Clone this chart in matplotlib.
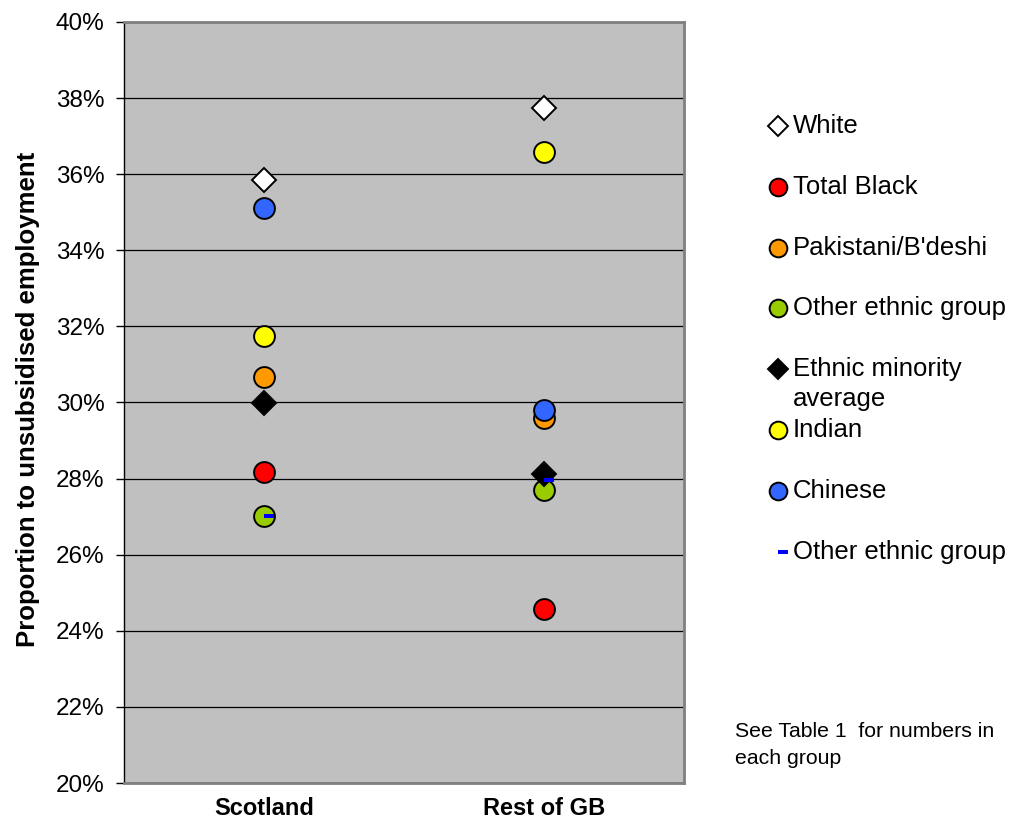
import matplotlib
matplotlib.use('Agg')
import matplotlib.pyplot as plt
import numpy as np
from matplotlib.path import Path
from matplotlib.ticker import PercentFormatter

plt.rcParams['font.family'] = ['Liberation Sans', 'DejaVu Sans']

# Share of each group moving into unsubsidised employment (%)
categories = ['Scotland', 'Rest of GB']
white = [35.84, 37.75]
total_black = [28.18, 24.56]
pakistani = [30.67, 29.58]
other_ethnic = [27.02, 27.70]
minority_avg = [29.98, 28.12]
indian = [31.76, 36.59]
chinese = [35.10, 29.80]
other_dash = [27.02, 27.97]

legend_labels = ['White', 'Total Black', "Pakistani/B'deshi", 'Other ethnic group',
                 'Ethnic minority\naverage', 'Indian', 'Chinese', 'Other ethnic group']

# short blue bar, sitting a little right of the point
dash = Path([(0, -0.2), (1, -0.2), (1, 0.2), (0, 0.2), (0, -0.2)],
            [Path.MOVETO, Path.LINETO, Path.LINETO, Path.LINETO, Path.CLOSEPOLY])

series = [
    (white, dict(marker='D', ms=12, mfc='white', mec='black', mew=1.4)),
    (total_black, dict(marker='o', ms=15, mfc='#FF0000', mec='black', mew=1.4)),
    (pakistani, dict(marker='o', ms=15, mfc='#FF9900', mec='black', mew=1.4)),
    (other_ethnic, dict(marker='o', ms=15, mfc='#99CC00', mec='black', mew=1.4)),
    (minority_avg, dict(marker='D', ms=12, mfc='black', mec='black', mew=1.4)),
    (indian, dict(marker='o', ms=15, mfc='#FFFF00', mec='black', mew=1.4)),
    (chinese, dict(marker='o', ms=15, mfc='#3366FF', mec='black', mew=1.4)),
    (other_dash, dict(marker=dash, ms=14.5, mfc='#0000FF', mec='none', mew=0)),
]

fig = plt.figure(figsize=(10.22, 8.21), dpi=100)
ax = fig.add_axes([124 / 1022, 38 / 821, 560 / 1022, 761 / 821])
ax.set_facecolor('#C0C0C0')

x = np.arange(len(categories))
for i, (vals, style) in enumerate(series):
    ax.plot(x, vals, linestyle='none', zorder=3 + i, **style)

ax.set_xlim(-0.5, 1.5)
ax.set_ylim(20, 40)
ax.set_yticks(np.arange(20, 41, 2))
ax.yaxis.set_major_formatter(PercentFormatter(decimals=0))
ax.grid(axis='y', color='black', lw=0.9)
ax.set_axisbelow(True)
ax.set_xticks(x)
ax.set_xticklabels(categories, fontsize=17, fontweight='bold')
ax.tick_params(axis='x', length=0, pad=10)
ax.tick_params(axis='y', length=6, width=1, labelsize=17.5, pad=8, direction='out')

for side in ['top', 'right', 'bottom']:
    ax.spines[side].set_color('#808080')
    ax.spines[side].set_linewidth(2)
ax.spines['left'].set_color('black')
ax.spines['left'].set_linewidth(1)

fig.text(28 / 1022, 1 - 399 / 821, 'Proportion to unsubsidised employment',
         rotation=90, ha='center', va='center', fontsize=18.5, fontweight='bold')

# legend drawn in pixel space on an overlay
lg = fig.add_axes([0, 0, 1, 1], facecolor='none')
lg.set_xlim(0, 1022)
lg.set_ylim(821, 0)
lg.axis('off')
y0, step = 126, 60.8
for i, (label, (vals, style)) in enumerate(zip(legend_labels, series)):
    yy = y0 + i * step
    st = dict(style)
    if st['marker'] is not dash:
        st['ms'] = st['ms'] * 0.85
    lg.plot([778], [yy], linestyle='none', **st)
    for j, ln in enumerate(label.split('\n')):
        lg.text(793, yy + j * 30, ln, fontsize=18.5, va='center', ha='left')

fig.text(735 / 1022, 1 - 722 / 821, 'See Table 1  for numbers in\neach group',
         fontsize=15.3, va='top', ha='left', linespacing=1.5)

fig.savefig('out.png', dpi=100)
